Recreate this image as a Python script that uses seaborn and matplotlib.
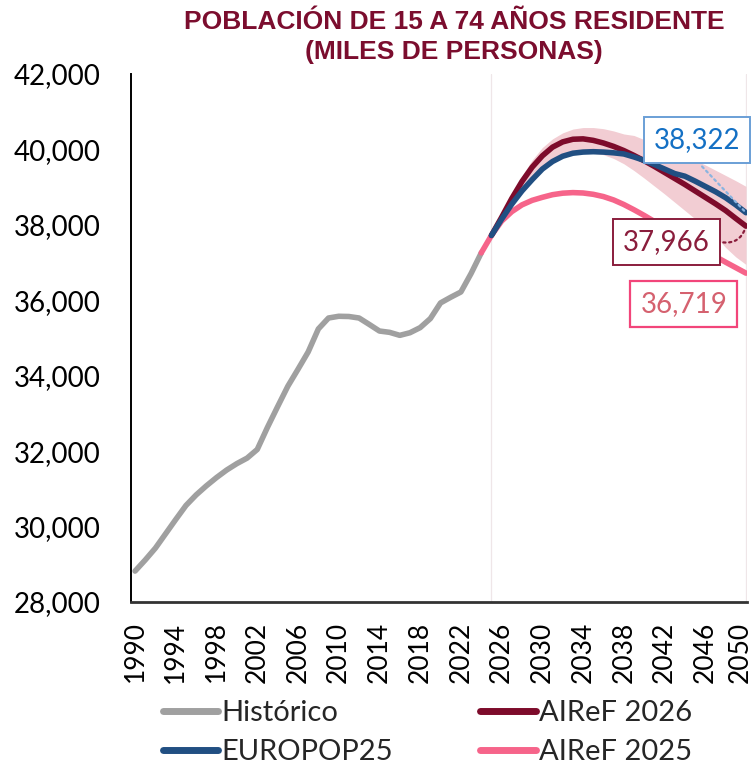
import numpy as np
import matplotlib
matplotlib.use("Agg")
import matplotlib.pyplot as plt
import matplotlib.transforms as mtransforms
import seaborn as sns

# historical series (thousands of people aged 15-74)
hist_years = list(range(1990, 2025))
hist_values = [28820, 29115, 29430, 29810, 30190, 30560, 30840, 31080, 31300, 31500,
               31670, 31815, 32045, 32630, 33180, 33720, 34170, 34630, 35240, 35530,
               35576, 35570, 35530, 35360, 35185, 35150, 35070, 35140, 35275, 35515,
               35930, 36080, 36220, 36710, 37257]

# projections
proj_years = list(range(2025, 2051))
airef_2026 = [37720, 38200, 38700, 39150, 39530, 39830, 40060, 40200, 40270, 40280,
              40240, 40170, 40080, 39970, 39840, 39700, 39550, 39390, 39230, 39070,
              38900, 38730, 38560, 38380, 38170, 37966]
europop25 = [37720, 38150, 38550, 38900, 39200, 39480, 39680, 39820, 39900, 39930,
             39940, 39930, 39910, 39880, 39800, 39710, 39600, 39480, 39360, 39290,
             39160, 39020, 38880, 38720, 38530, 38322]
airef_2025_years = list(range(2024, 2051))
airef_2025 = [37257, 37720, 38100, 38350, 38530, 38650, 38730, 38800, 38840, 38855,
              38845, 38810, 38750, 38660, 38540, 38400, 38250, 38090, 37930, 37770,
              37610, 37460, 37310, 37160, 37010, 36865, 36719]

# uncertainty band around AIReF 2026
band_high = [37720, 38250, 38800, 39300, 39720, 40050, 40280, 40440, 40540, 40580,
             40580, 40550, 40490, 40410, 40370, 40260, 40160, 40060, 39950, 39830,
             39710, 39590, 39450, 39310, 39170, 39020]
band_low = [37720, 38150, 38550, 38900, 39200, 39470, 39680, 39830, 39900, 39920,
            39900, 39860, 39760, 39620, 39440, 39240, 39030, 38820, 38600, 38380,
            38160, 37930, 37700, 37400, 37150, 36950]

c_hist = "#a0a0a0"
c_red = "#7d0b2b"
c_blue = "#214f82"
c_pink = "#f6648a"
c_title = "#7b0d2e"

sns.set_style("white")
plt.rcParams["font.family"] = ["Lato", "DejaVu Sans"]

fig = plt.figure(figsize=(7.56, 7.71), dpi=100)
ax = fig.add_axes([131 / 756, 1 - 602 / 771, 616 / 756, 528 / 771])

ax.axvline(2025, color="#efe6e8", lw=0.9, zorder=0)
ax.axvline(2050, color="#efe6e8", lw=0.9, zorder=0)

ax.fill_between(proj_years, band_low, band_high, color="#f2cdd3", lw=0, zorder=1)

lw = 4.0
sns.lineplot(x=hist_years, y=hist_values, ax=ax, color=c_hist, lw=lw, label="Histórico",
             solid_capstyle="round", zorder=3)
sns.lineplot(x=airef_2025_years, y=airef_2025, ax=ax, color=c_pink, lw=lw, label="AIReF 2025",
             solid_capstyle="round", zorder=3)
sns.lineplot(x=proj_years, y=airef_2026, ax=ax, color=c_red, lw=lw, label="AIReF 2026",
             solid_capstyle="round", zorder=4)
sns.lineplot(x=proj_years, y=europop25, ax=ax, color=c_blue, lw=lw, label="EUROPOP25",
             solid_capstyle="round", zorder=5)

ax.set_xlim(1989.6, 2050.1)
ax.set_ylim(28000, 42000)
ax.set_xticks(range(1990, 2051, 4))
ax.set_xticklabels([str(y) for y in range(1990, 2051, 4)], rotation=90, fontsize=19)
ax.set_yticks(range(28000, 42001, 2000))
ax.set_yticklabels([f"{v:,}" for v in range(28000, 42001, 2000)], fontsize=20)
ax.tick_params(axis="x", length=0, pad=14, colors="black")
ax.tick_params(axis="y", length=0, pad=22, colors="black")
# keep the last year label inside the canvas
last = ax.get_xticklabels()[-1]
last.set_transform(last.get_transform() +
                   mtransforms.ScaledTranslation(-4 / 72, 0, fig.dpi_scale_trans))
ax.set_xlabel("")
ax.set_ylabel("")
for s in ["top", "right"]:
    ax.spines[s].set_visible(False)
ax.spines["left"].set_color("black")
ax.spines["left"].set_linewidth(1.4)
ax.spines["bottom"].set_color("#333333")
ax.spines["bottom"].set_linewidth(2.0)

# end-of-series labels
ax.text(2045.2, 40253, f"{europop25[-1]:,}", fontsize=20, color="#1470c4", ha="center",
        va="center", zorder=6,
        bbox=dict(boxstyle="square,pad=0.36", fc="white", ec="#6a9fd6", lw=1.4))
ax.annotate("", xy=(2050, europop25[-1]), xytext=(2045.5, 39600),
            arrowprops=dict(arrowstyle="-", ls=":", color="#8ab4e0", lw=1.6), zorder=5)
ax.text(2042.2, 37545, f"{airef_2026[-1]:,}", fontsize=20, color="#8a1d3c", ha="center",
        va="center", zorder=6,
        bbox=dict(boxstyle="square,pad=0.36", fc="white", ec="#8a1d3c", lw=1.4))
ax.annotate("", xy=(2050, airef_2026[-1]), xytext=(2047.5, 37545),
            arrowprops=dict(arrowstyle="-", ls=":", color="#8a1d3c", lw=1.6,
                            connectionstyle="arc3,rad=0.45"), zorder=5)
ax.text(2043.9, 35912, f"{airef_2025[-1]:,}", fontsize=20, color="#d5616f", ha="center",
        va="center", zorder=6,
        bbox=dict(boxstyle="square,pad=0.36", fc="white", ec="#f2457a", lw=1.6))

fig.text(454 / 756, 1 - 10 / 771, "POBLACIÓN DE 15 A 74 AÑOS RESIDENTE\n(MILES DE PERSONAS)",
         ha="center", va="top", fontsize=19, fontweight="bold", color=c_title,
         family="Liberation Sans", linespacing=1.3)

handles, labels = ax.get_legend_handles_labels()
ax.legend_.remove()
order = ["Histórico", "EUROPOP25", "AIReF 2026", "AIReF 2025"]
h_map = dict(zip(labels, handles))
leg = fig.legend([h_map[k] for k in order], order, loc="upper left",
                 bbox_to_anchor=(163 / 756, 1 - 700 / 771), ncol=2, frameon=False,
                 fontsize=21, handlelength=1.9, handletextpad=0.1, columnspacing=3.0,
                 labelspacing=0.45, borderpad=0, borderaxespad=0)
for line in leg.get_lines():
    line.set_linewidth(5)

fig.savefig("out.png", dpi=100)
